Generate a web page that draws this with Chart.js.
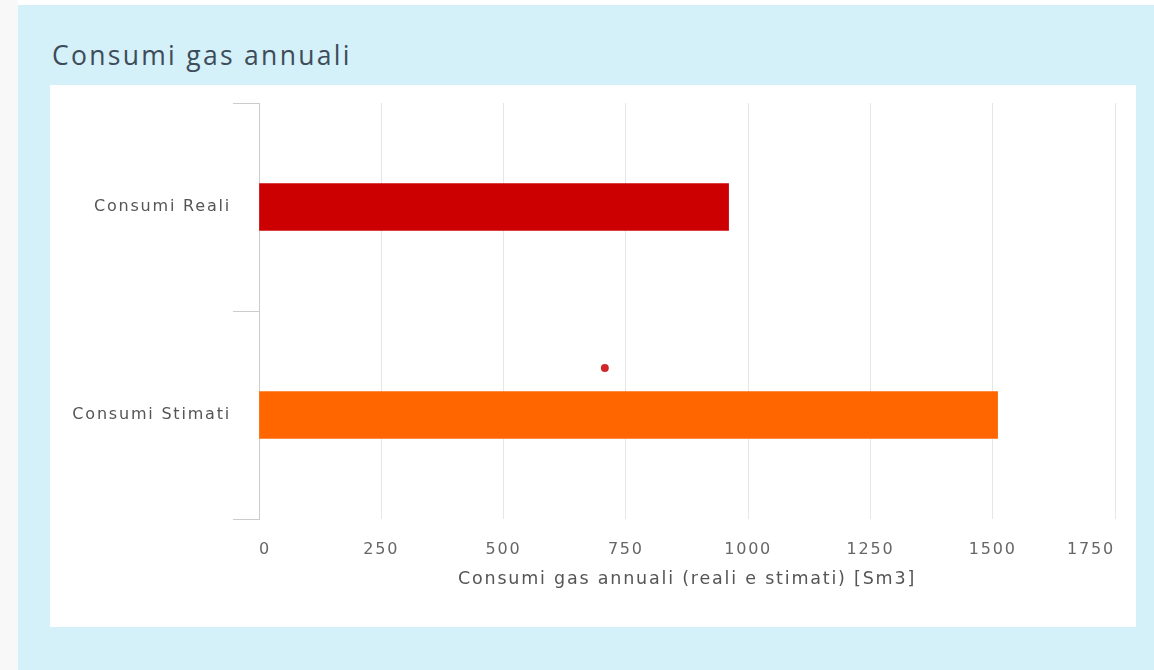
<!DOCTYPE html>
<html>
<head>
<meta charset="utf-8">
<script src="https://cdn.jsdelivr.net/npm/chart.js@4"></script>
<style>
  html, body { margin: 0; padding: 0; background: #ffffff; }
  body { width: 1154px; height: 670px; position: relative; overflow: hidden; }
  #strip { position: absolute; left: 0; top: 0; width: 18px; height: 670px; background: #f8f8f8; }
  #panel { position: absolute; left: 18px; top: 5px; width: 1136px; height: 665px; background: #d4f0f8; }
  #titolo { position: absolute; left: 52px; top: 37px; font-family: "Open Sans", sans-serif; font-size: 26.5px; color: #3e4c59; letter-spacing: 2.3px; }
  #card { position: absolute; left: 50px; top: 85px; width: 1086px; height: 542px; background: #ffffff; }
</style>
</head>
<body>
<div id="strip"></div>
<div id="panel"></div>
<div id="titolo">Consumi gas annuali</div>
<div id="card"><canvas id="grafico-consumi" width="1086" height="542"></canvas></div>
<script>
var categorie = ['Consumi Reali', 'Consumi Stimati'];
var consumi = [960, 1510];
var colori = ['#cc0000', '#ff6600'];
var xTicks = [0, 250, 500, 750, 1000, 1250, 1500, 1750];
// punto rosso isolato: valore x e posizione verticale (0-100 dall'alto)
var puntoX = [707];
var puntoY = [65.1];

var spaziatura = {
    id: 'spaziatura',
    beforeDraw: function(chart) { chart.ctx.letterSpacing = '1.8px'; }
};

var ctx = document.getElementById('grafico-consumi').getContext('2d');
var config = {
    type: 'bar',
    data: {
        labels: categorie,
        datasets: [{
            data: consumi,
            backgroundColor: colori,
            barThickness: 47,
            grouped: false,
            xAxisID: 'x',
            yAxisID: 'y'
        }, {
            type: 'scatter',
            data: puntoX.map(function(v, i){ return {x: v, y: puntoY[i]}; }),
            backgroundColor: '#d0282a',
            borderWidth: 0,
            pointRadius: 4,
            xAxisID: 'x',
            yAxisID: 'y2'
        }]
    },
    options: {
        indexAxis: 'y',
        responsive: false,
        animation: false,
        layout: { padding: { top: 18, right: 18, bottom: 0, left: 0 } },
        plugins: { legend: { display: false }, tooltip: { enabled: false } },
        scales: {
            x: {
                type: 'linear',
                position: 'bottom',
                min: 0,
                max: 1750,
                afterBuildTicks: function(scale) {
                    scale.ticks = xTicks.map(function(v){ return {value: v}; });
                },
                afterFit: function(scale) { scale.height = 108; },
                grid: { color: '#e6e6e6', drawTicks: false },
                border: { display: false },
                ticks: {
                    align: 'inner',
                    padding: 21,
                    color: '#666666',
                    font: { family: 'DejaVu Sans', size: 16 },
                    callback: function(value) { return String(value); }
                },
                title: {
                    display: true,
                    text: 'Consumi gas annuali (reali e stimati) [Sm3]',
                    color: '#555555',
                    font: { family: 'DejaVu Sans', size: 17.5 },
                    padding: { top: 0, bottom: 37 }
                }
            },
            y: {
                type: 'category',
                position: 'left',
                afterFit: function(scale) { scale.width = 209; },
                grid: { offset: true, drawOnChartArea: false, drawTicks: true, tickLength: 26, color: '#cccccc' },
                border: { display: true, color: '#cccccc' },
                ticks: {
                    padding: 2,
                    color: '#555555',
                    font: { family: 'DejaVu Sans', size: 16 }
                }
            },
            y2: {
                type: 'linear',
                axis: 'y',
                display: false,
                min: 0,
                max: 100,
                reverse: true
            }
        }
    },
    plugins: [spaziatura]
};
var grafico_consumi = new Chart(ctx, config);
</script>
</body>
</html>
